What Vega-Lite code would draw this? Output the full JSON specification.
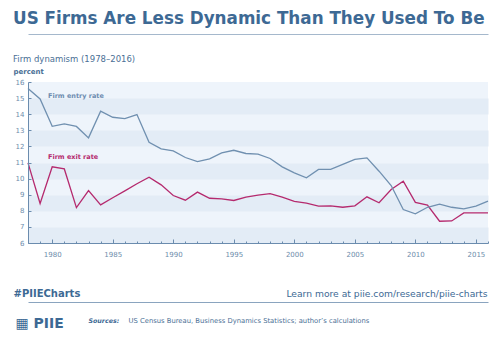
{
  "$schema": "https://vega.github.io/schema/vega-lite/v6.json",
  "width": 460,
  "height": 161,
  "autosize": {"type": "none"},
  "padding": {"left": 28, "top": 82, "right": 12, "bottom": 101},
  "background": "white",
  "config": {"view": {"fill": "#eef4fb", "stroke": null}, "font": "DejaVu Sans"},
  "title": {
    "text": "US Firms Are Less Dynamic Than They Used To Be",
    "subtitle": "Firm dynamism (1978–2016)",
    "anchor": "start",
    "frame": "group",
    "dx": -15,
    "font": "DejaVu Sans",
    "fontSize": 16.8,
    "fontWeight": "bold",
    "color": "#3d6994",
    "subtitleFont": "DejaVu Sans",
    "subtitleFontSize": 8.5,
    "subtitleColor": "#4a6f95",
    "subtitlePadding": 28,
    "offset": -30
  },
  "datasets": {
    "entry": [
      {"year": 1978, "value": 15.6}, {"year": 1979, "value": 14.95}, {"year": 1980, "value": 13.25},
      {"year": 1981, "value": 13.4}, {"year": 1982, "value": 13.24}, {"year": 1983, "value": 12.53},
      {"year": 1984, "value": 14.19}, {"year": 1985, "value": 13.81}, {"year": 1986, "value": 13.73},
      {"year": 1987, "value": 13.98}, {"year": 1988, "value": 12.26}, {"year": 1989, "value": 11.85},
      {"year": 1990, "value": 11.72}, {"year": 1991, "value": 11.31}, {"year": 1992, "value": 11.06},
      {"year": 1993, "value": 11.23}, {"year": 1994, "value": 11.6}, {"year": 1995, "value": 11.76},
      {"year": 1996, "value": 11.56}, {"year": 1997, "value": 11.52}, {"year": 1998, "value": 11.25},
      {"year": 1999, "value": 10.73}, {"year": 2000, "value": 10.36}, {"year": 2001, "value": 10.05},
      {"year": 2002, "value": 10.57}, {"year": 2003, "value": 10.57}, {"year": 2004, "value": 10.88},
      {"year": 2005, "value": 11.19}, {"year": 2006, "value": 11.29}, {"year": 2007, "value": 10.46},
      {"year": 2008, "value": 9.57}, {"year": 2009, "value": 8.08}, {"year": 2010, "value": 7.81},
      {"year": 2011, "value": 8.22}, {"year": 2012, "value": 8.41}, {"year": 2013, "value": 8.22},
      {"year": 2014, "value": 8.12}, {"year": 2015, "value": 8.29}, {"year": 2016, "value": 8.6}
    ],
    "exit": [
      {"year": 1978, "value": 10.98}, {"year": 1979, "value": 8.45}, {"year": 1980, "value": 10.73},
      {"year": 1981, "value": 10.6}, {"year": 1982, "value": 8.2}, {"year": 1983, "value": 9.26},
      {"year": 1984, "value": 8.37}, {"year": 1985, "value": 8.81}, {"year": 1986, "value": 9.24},
      {"year": 1987, "value": 9.68}, {"year": 1988, "value": 10.09}, {"year": 1989, "value": 9.61},
      {"year": 1990, "value": 8.95}, {"year": 1991, "value": 8.66}, {"year": 1992, "value": 9.16},
      {"year": 1993, "value": 8.78}, {"year": 1994, "value": 8.74}, {"year": 1995, "value": 8.64},
      {"year": 1996, "value": 8.85}, {"year": 1997, "value": 8.97}, {"year": 1998, "value": 9.07},
      {"year": 1999, "value": 8.85}, {"year": 2000, "value": 8.58}, {"year": 2001, "value": 8.48},
      {"year": 2002, "value": 8.29}, {"year": 2003, "value": 8.31}, {"year": 2004, "value": 8.22},
      {"year": 2005, "value": 8.31}, {"year": 2006, "value": 8.87}, {"year": 2007, "value": 8.5},
      {"year": 2008, "value": 9.32}, {"year": 2009, "value": 9.84}, {"year": 2010, "value": 8.52},
      {"year": 2011, "value": 8.35}, {"year": 2012, "value": 7.35}, {"year": 2013, "value": 7.37},
      {"year": 2014, "value": 7.87}, {"year": 2015, "value": 7.87}, {"year": 2016, "value": 7.87}
    ],
    "entryLabel": [{"label": "Firm entry rate", "year": 1979.65, "value": 15.16}],
    "exitLabel": [{"label": "Firm exit rate", "year": 1979.65, "value": 11.35}]
  },
  "resolve": {"axis": {"x": "independent", "y": "independent"}},
  "layer": [
    {
      "data": {"name": "exit"},
      "mark": {"type": "line", "color": "#b52a6e", "strokeWidth": 1.3},
      "encoding": {
        "x": {
          "field": "year", "type": "quantitative",
          "scale": {"domain": [1978, 2016], "nice": false, "zero": false},
          "axis": {
            "orient": "top", "offset": 48, "domain": true, "domainColor": "#a5b8cc", "domainWidth": 1,
            "ticks": false, "labels": false, "grid": false,
            "title": "Learn more at piie.com/research/piie-charts",
            "titleAlign": "right", "titleBaseline": "alphabetic", "titleAngle": 0,
            "titleX": 459, "titleY": 262,
            "titleFont": "DejaVu Sans", "titleFontSize": 9.2, "titleFontWeight": "normal", "titleColor": "#3d6994"
          }
        },
        "y": {
          "field": "value", "type": "quantitative",
          "scale": {"domain": [6, 16], "nice": false, "zero": false},
          "axis": {
            "orient": "left", "values": [6.5, 8.5, 10.5, 12.5, 14.5],
            "grid": true, "gridColor": "#e3ecf6", "gridWidth": 16.1, "gridOpacity": 1,
            "domain": false, "ticks": false, "labels": false, "title": null, "zindex": 0
          }
        }
      }
    },
    {
      "data": {"name": "entry"},
      "mark": {"type": "line", "color": "#7090b0", "strokeWidth": 1.3},
      "encoding": {
        "x": {
          "field": "year", "type": "quantitative",
          "scale": {"domain": [1978, 2016], "nice": false, "zero": false},
          "axis": {
            "orient": "bottom",
            "values": [1980, 1985, 1990, 1995, 2000, 2005, 2010, 2015], "format": "d",
            "labelFont": "DejaVu Sans", "labelFontSize": 7, "labelColor": "#6d8cab",
            "domainColor": "#6b8cae", "tickColor": "#6b8cae", "tickSize": -4, "labelPadding": 11,
            "grid": false, "zindex": 1,
            "title": "#PIIECharts", "titleX": -15, "titleY": 53, "titleAlign": "left",
            "titleBaseline": "alphabetic", "titleAngle": 0,
            "titleFont": "DejaVu Sans", "titleFontSize": 10, "titleFontWeight": "bold", "titleColor": "#3d6994"
          }
        },
        "y": {
          "field": "value", "type": "quantitative",
          "scale": {"domain": [6, 16], "nice": false, "zero": false},
          "axis": {
            "orient": "left",
            "values": [6, 7, 8, 9, 10, 11, 12, 13, 14, 15, 16],
            "labelFont": "DejaVu Sans", "labelFontSize": 7, "labelColor": "#6d8cab",
            "domainColor": "#6b8cae", "tickColor": "#6b8cae", "tickSize": -3, "labelPadding": 7,
            "grid": false, "zindex": 1,
            "title": "percent", "titleAngle": 0, "titleAlign": "left", "titleBaseline": "alphabetic",
            "titleX": -15, "titleY": -8.5,
            "titleFont": "DejaVu Sans", "titleFontSize": 7, "titleFontWeight": "bold", "titleColor": "#4a6f95"
          }
        }
      }
    },
    {
      "data": {"name": "entryLabel"},
      "mark": {"type": "text", "align": "left", "baseline": "middle", "font": "DejaVu Sans", "fontSize": 6.5, "fontWeight": "bold", "color": "#6d8cb0"},
      "encoding": {
        "text": {"field": "label"},
        "x": {
          "field": "year", "type": "quantitative",
          "scale": {"domain": [1978, 2016], "nice": false, "zero": false},
          "axis": {
            "orient": "bottom", "offset": 59, "domain": true, "domainColor": "#8aa4bf", "domainWidth": 1,
            "ticks": false, "labels": false, "grid": false,
            "title": "▦ PIIE", "titleX": -13, "titleY": 25.5, "titleAlign": "left",
            "titleBaseline": "alphabetic", "titleAngle": 0,
            "titleFont": "DejaVu Sans", "titleFontSize": 14, "titleFontWeight": "bold", "titleColor": "#3d6994"
          }
        },
        "y": {
          "field": "value", "type": "quantitative",
          "scale": {"domain": [6, 16], "nice": false, "zero": false},
          "axis": {
            "orient": "right", "domain": false, "ticks": false, "labels": false, "grid": false,
            "title": "Sources:", "titleAngle": 0, "titleAlign": "left", "titleBaseline": "alphabetic",
            "titleX": -400, "titleY": 240,
            "titleFont": "DejaVu Sans", "titleFontSize": 6.3, "titleFontWeight": "bold", "titleFontStyle": "italic", "titleColor": "#3d6994"
          }
        }
      }
    },
    {
      "data": {"name": "exitLabel"},
      "mark": {"type": "text", "align": "left", "baseline": "middle", "font": "DejaVu Sans", "fontSize": 6.5, "fontWeight": "bold", "color": "#b52a6e"},
      "encoding": {
        "text": {"field": "label"},
        "x": {
          "field": "year", "type": "quantitative",
          "scale": {"domain": [1978, 2016], "nice": false, "zero": false},
          "axis": {
            "orient": "bottom",
            "values": [1978, 1979, 1981, 1982, 1983, 1984, 1986, 1987, 1988, 1989, 1991, 1992, 1993, 1994, 1996, 1997, 1998, 1999, 2001, 2002, 2003, 2004, 2006, 2007, 2008, 2009, 2011, 2012, 2013, 2014, 2016],
            "domain": false, "labels": false, "grid": false,
            "ticks": true, "tickSize": -2, "tickColor": "#6b8cae", "zindex": 1,
            "title": "US Census Bureau, Business Dynamics Statistics; author’s calculations",
            "titleX": 100, "titleY": 79, "titleAlign": "left", "titleBaseline": "alphabetic", "titleAngle": 0,
            "titleFont": "DejaVu Sans", "titleFontSize": 6.8, "titleFontWeight": "normal", "titleColor": "#4a6f95"
          }
        },
        "y": {
          "field": "value", "type": "quantitative",
          "scale": {"domain": [6, 16], "nice": false, "zero": false},
          "axis": null
        }
      }
    }
  ]
}
